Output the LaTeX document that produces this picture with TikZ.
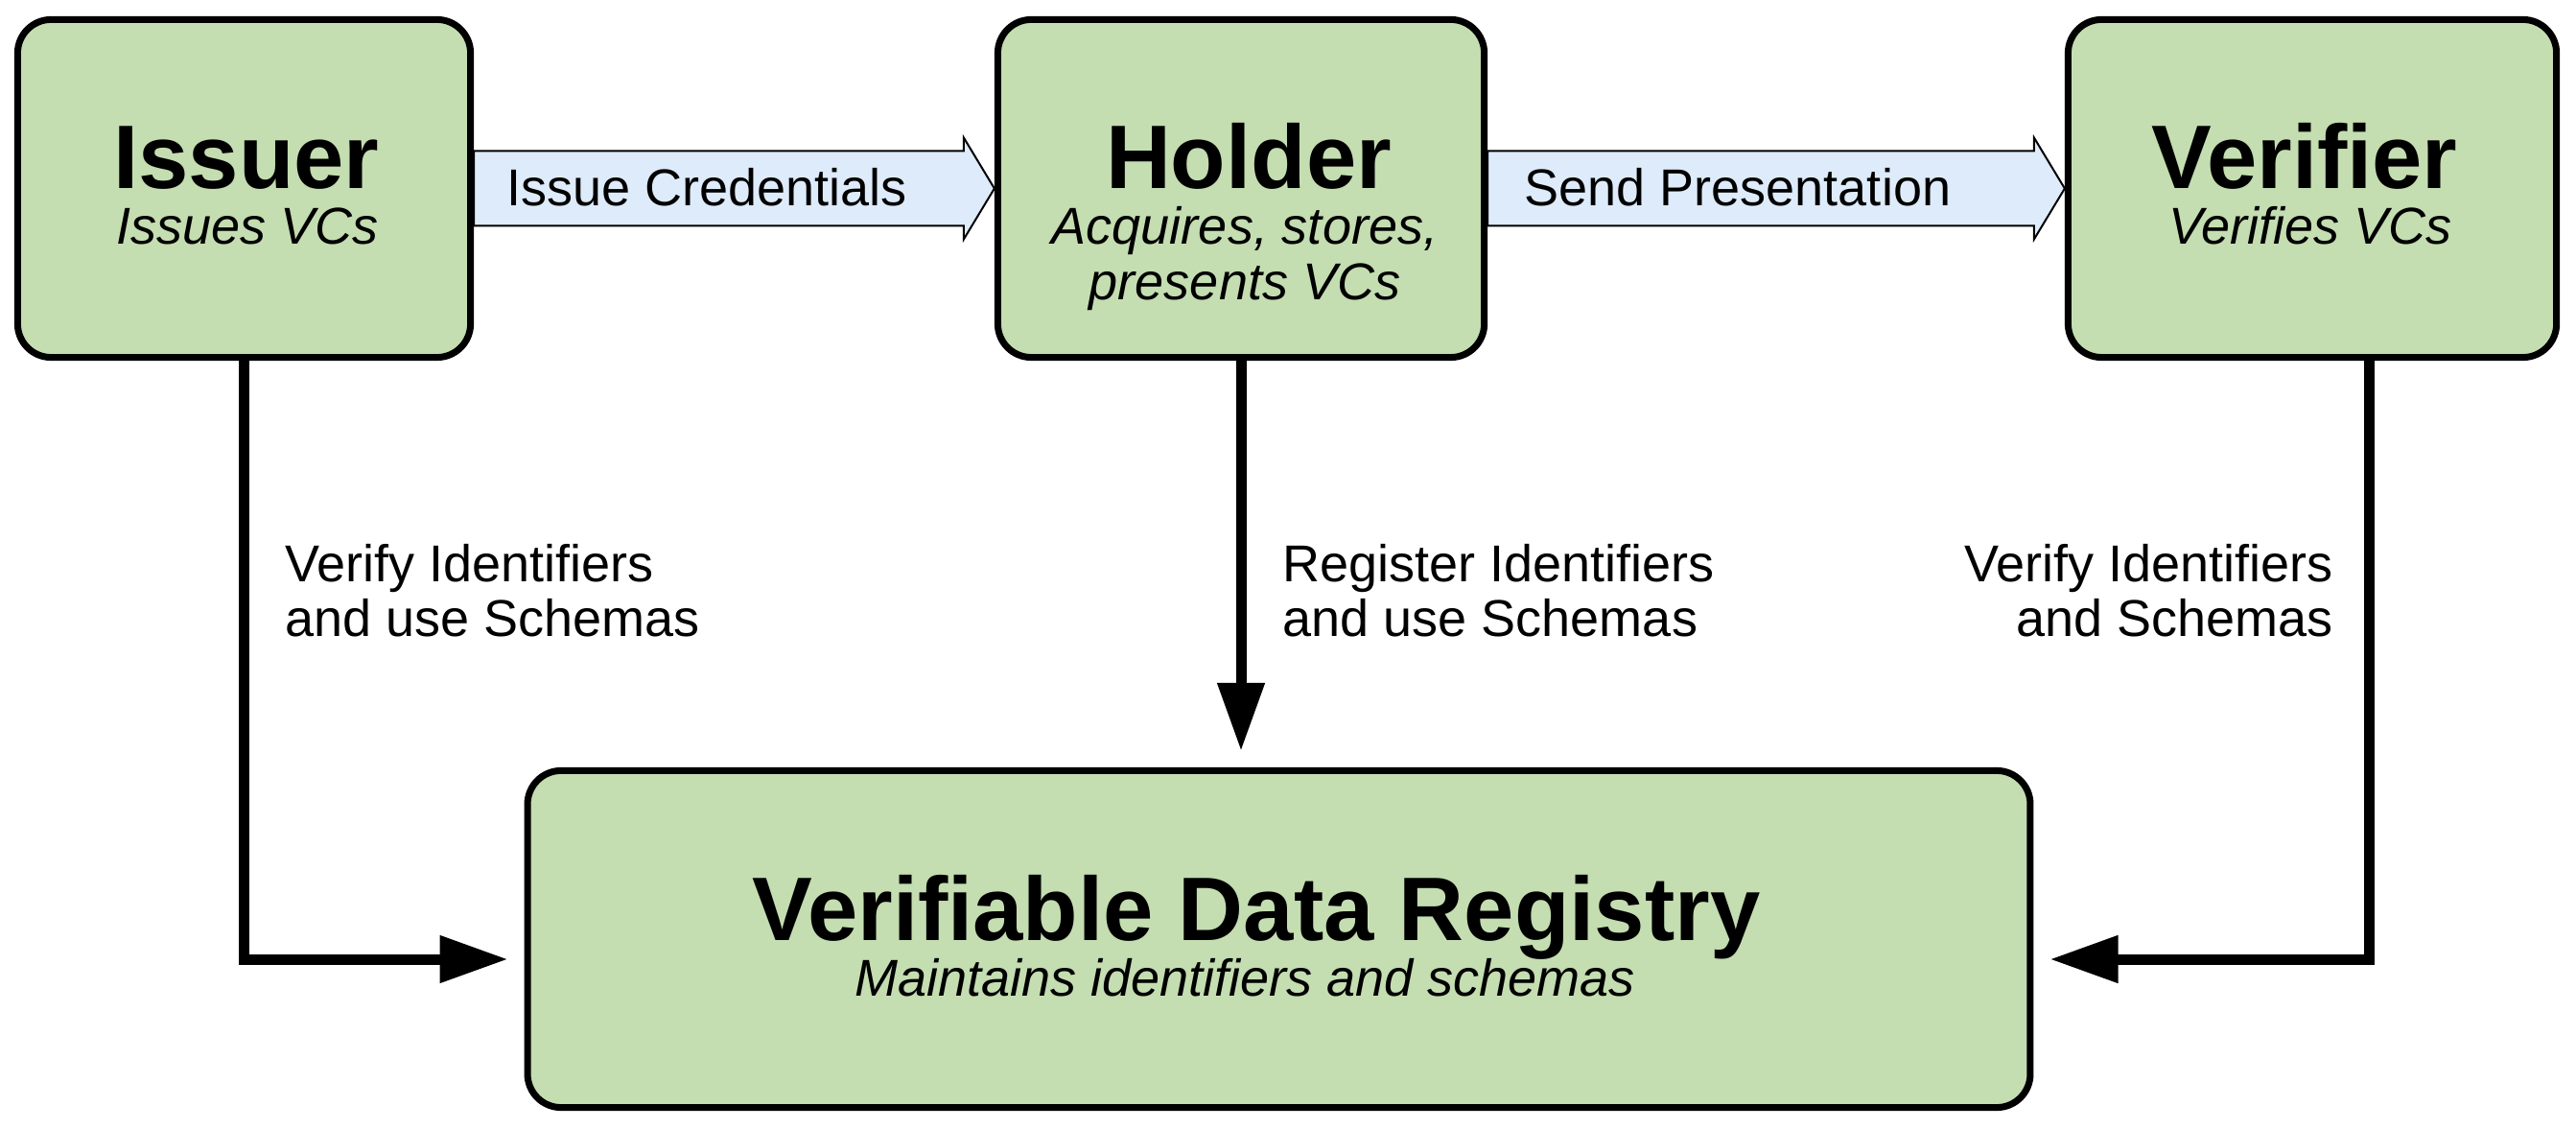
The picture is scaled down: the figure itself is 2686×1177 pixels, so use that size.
\documentclass[tikz,border=0pt]{standalone}
\usepackage{fontspec}
\setmainfont{Liberation Sans}
\usetikzlibrary{arrows.meta,calc}
\definecolor{boxgreen}{HTML}{C4DDB1}
\definecolor{arrowblue}{HTML}{DEEBFA}
\begin{document}
\begin{tikzpicture}[x=0.01cm,y=-0.01cm,
 actor/.style={draw=black, line width=0.07cm, fill=boxgreen, rounded corners=0.35cm, inner sep=0pt, minimum height=3.52cm},
 ttl/.style={inner sep=0pt, anchor=base, font=\fontsize{26.75pt}{30pt}\selectfont\bfseries},
 sub/.style={inner sep=0pt, anchor=base, font=\fontsize{15.36pt}{16.22pt}\selectfont\itshape},
 lbl/.style={inner sep=0pt, font=\fontsize{15.36pt}{15.93pt}\selectfont},
 conn/.style={line width=0.11cm, -{Triangle[length=0.71cm,width=0.47cm]}, shorten >=0.17cm},
 blockarrow/.style={draw=black, line width=0.02cm, fill=arrowblue, line join=miter}]
\useasboundingbox (0,0) rectangle (2686,1177);

% boxes
\node[actor, minimum width=4.72cm] (issuer) at (254.5,196.5) {};
\node[actor, minimum width=5.07cm] (holder) at (1294,196.5) {};
\node[actor, minimum width=5.09cm] (verifier) at (2411,196.5) {};
\node[actor, minimum width=15.66cm, minimum height=3.51cm] (vdr) at (1333.5,979) {};

% box texts
\node[ttl] (issuerT) at (257,197) {Issuer};
\node[sub] (issuerS) at (258,255) {Issues VCs};
\node[ttl] (holderT) at (1302,197) {Holder};
\node[sub] (holderS) at (1298,255) {\vtop{\halign{\hfil#\hfil\cr Acquires, stores,\cr presents VCs\cr}}};
\node[ttl] (verifierT) at (2403,197) {Verifier};
\node[sub] (verifierS) at (2409,255) {Verifies VCs};
\node[ttl] (vdrT) at (1310,980) {Verifiable Data Registry};
\node[sub] (vdrS) at (1298,1038) {Maintains identifiers and schemas};

% block arrows
\draw[blockarrow] ($(issuer.east)+(0,-39)$) -- ($(holder.west)+(-32,-39)$) -- ($(holder.west)+(-32,-53)$) -- (holder.west) -- ($(holder.west)+(-32,53)$) -- ($(holder.west)+(-32,39)$) -- ($(issuer.east)+(0,39)$) -- cycle;
\draw[blockarrow] ($(holder.east)+(0,-39)$) -- ($(verifier.west)+(-32,-39)$) -- ($(verifier.west)+(-32,-53)$) -- (verifier.west) -- ($(verifier.west)+(-32,53)$) -- ($(verifier.west)+(-32,39)$) -- ($(holder.east)+(0,39)$) -- cycle;
\node[lbl, anchor=base west] (issueL) at (528,215) {Issue Credentials};
\node[lbl, anchor=base west] (sendL) at (1589,215) {Send Presentation};

% connectors
\draw[conn] (issuer.south) |- ([yshift=-0.21cm]vdr.west);
\draw[conn] (holder.south) -- (holder.south |- vdr.north);
\draw[conn] ([xshift=0.59cm]verifier.south) |- ([yshift=-0.21cm]vdr.east);

% connector labels
\node[lbl, anchor=base west] (lblA) at (297,607) {\vtop{\halign{#\hfil\cr Verify Identifiers\cr and use Schemas\cr}}};
\node[lbl, anchor=base west] (lblB) at (1337,607) {\vtop{\halign{#\hfil\cr Register Identifiers\cr and use Schemas\cr}}};
\node[lbl, anchor=base east] (lblC) at (2433,607) {\vtop{\halign{\hfil#\cr Verify Identifiers\cr and Schemas\cr}}};
\end{tikzpicture}
\end{document}
